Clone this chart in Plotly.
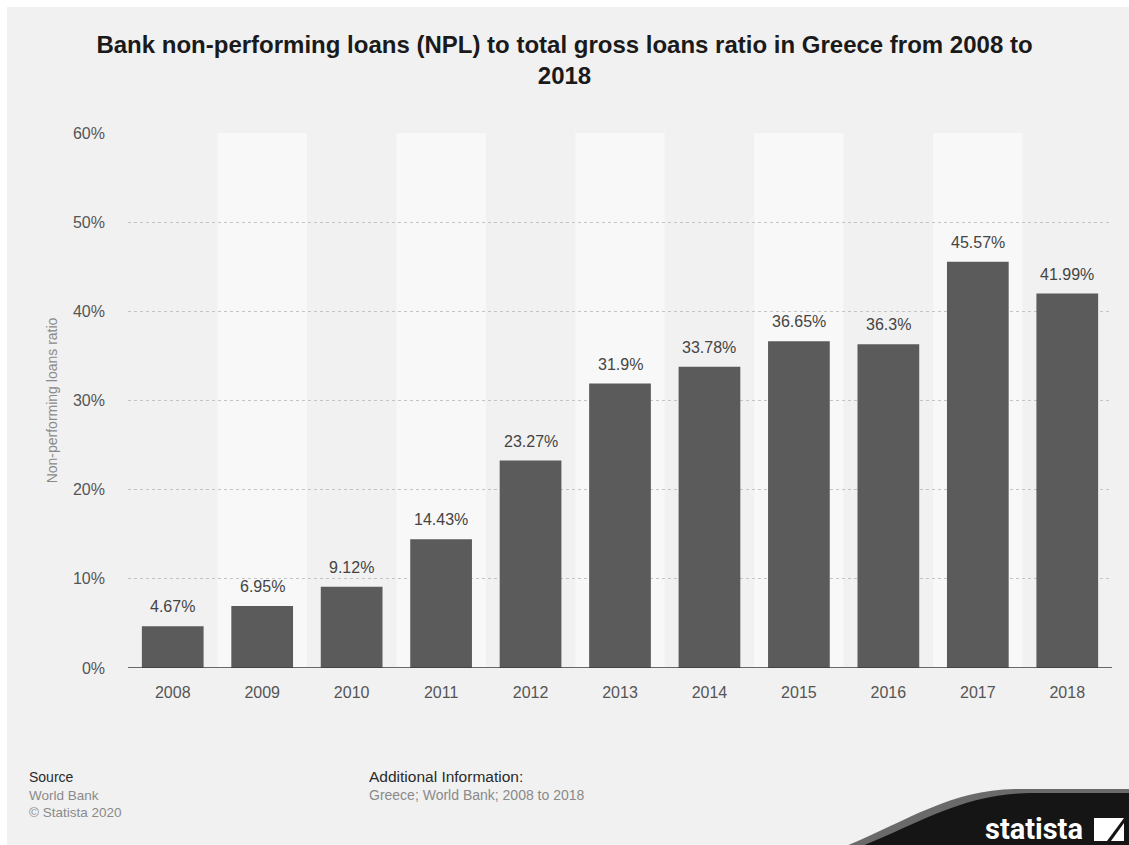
import plotly.graph_objects as go

years = ["2008", "2009", "2010", "2011", "2012", "2013", "2014", "2015", "2016", "2017", "2018"]
npl_ratio = [4.67, 6.95, 9.12, 14.43, 23.27, 31.9, 33.78, 36.65, 36.3, 45.57, 41.99]
labels = ["4.67%", "6.95%", "9.12%", "14.43%", "23.27%", "31.9%", "33.78%", "36.65%", "36.3%", "45.57%", "41.99%"]
y_ticks = [0, 10, 20, 30, 40, 50, 60]
y_tick_text = ["0%", "10%", "20%", "30%", "40%", "50%", "60%"]

W, H = 1129, 845
L, R, T, B = 128, 17, 133, 177
PW, PH = W - L - R, H - T - B
FONT = "Liberation Sans, Arial"

def px(x):
    return (x - L) / PW

def py(y):
    return (H - B - y) / PH

fig = go.Figure()
fig.add_trace(go.Bar(
    x=years, y=npl_ratio,
    marker=dict(color="#5b5b5b", line=dict(width=0)),
    width=0.69, hoverinfo="skip",
))

shapes = []
# gray page background with white border at top/left
shapes.append(dict(type="rect", xref="paper", yref="paper", x0=px(7), x1=px(W + 5),
                   y0=py(H + 5), y1=py(7), fillcolor="#f1f1f1", line=dict(width=0), layer="below"))
for i in range(len(years)):
    if i % 2 == 1:
        shapes.append(dict(type="rect", xref="x", yref="paper", x0=i - 0.5, x1=i + 0.5,
                           y0=0, y1=1, fillcolor="#f8f8f8", line=dict(width=0), layer="below"))
# baseline
shapes.append(dict(type="line", xref="paper", yref="y", x0=0, x1=1, y0=0, y1=0,
                   line=dict(color="#3a3a3a", width=1.5)))

# statista logo swoosh
def path_px(cmds):
    parts = []
    for cmd, pts in cmds:
        parts.append(cmd + " " + " ".join(f"{px(a):.5f},{py(b):.5f}" for a, b in pts))
    return " ".join(parts) + " Z"

swoosh_gray = path_px([
    ("M", [(846, 846)]),
    ("C", [(905, 822), (950, 790), (1015, 789)]),
    ("L", [(1135, 789)]),
    ("L", [(1135, 846)]),
])
swoosh_dark = path_px([
    ("M", [(862, 846)]),
    ("C", [(918, 824), (962, 794), (1030, 793)]),
    ("L", [(1135, 793)]),
    ("L", [(1135, 846)]),
])
shapes.append(dict(type="path", xref="paper", yref="paper", path=swoosh_gray,
                   fillcolor="#6a6a6a", line=dict(width=0), layer="above"))
shapes.append(dict(type="path", xref="paper", yref="paper", path=swoosh_dark,
                   fillcolor="#151515", line=dict(width=0), layer="above"))
# logo icon
icon1 = path_px([
    ("M", [(1094, 818)]),
    ("L", [(1124, 818)]),
    ("L", [(1107, 841)]),
    ("L", [(1094, 841)]),
])
icon2 = path_px([
    ("M", [(1111, 841)]),
    ("L", [(1124, 823)]),
    ("L", [(1124, 841)]),
])
shapes.append(dict(type="path", xref="paper", yref="paper", path=icon1,
                   fillcolor="#ffffff", line=dict(width=0), layer="above"))
shapes.append(dict(type="path", xref="paper", yref="paper", path=icon2,
                   fillcolor="#ffffff", line=dict(width=0), layer="above"))

annotations = []
for i, (v, lab) in enumerate(zip(npl_ratio, labels)):
    annotations.append(dict(x=i, y=v, xref="x", yref="y", text=lab, showarrow=False,
                            yanchor="bottom", yshift=9,
                            font=dict(family=FONT, size=16, color="#444444")))

footer = [
    dict(text="Source", x=px(27), y=py(777), xanchor="left", yanchor="middle",
         font=dict(family=FONT, size=14, color="#2a2a2a")),
    dict(text="World Bank", x=px(27), y=py(795), xanchor="left", yanchor="middle",
         font=dict(family=FONT, size=13.5, color="#8a8a8a")),
    dict(text="© Statista 2020", x=px(27), y=py(812), xanchor="left", yanchor="middle",
         font=dict(family=FONT, size=13.5, color="#8a8a8a")),
    dict(text="Additional Information:", x=px(367), y=py(776), xanchor="left", yanchor="middle",
         font=dict(family=FONT, size=15.5, color="#2a2a2a")),
    dict(text="Greece; World Bank; 2008 to 2018", x=px(367), y=py(795), xanchor="left", yanchor="middle",
         font=dict(family=FONT, size=14, color="#8a8a8a")),
    dict(text="<b>statista</b>", x=px(1085), y=py(829), xanchor="right", yanchor="middle",
         font=dict(family="Roboto, Liberation Sans", size=29, color="#ffffff")),
]
for a in footer:
    a.update(xref="paper", yref="paper", showarrow=False)
annotations += footer

fig.update_layout(
    width=W, height=H,
    margin=dict(l=L, r=R, t=T, b=B),
    paper_bgcolor="#ffffff", plot_bgcolor="rgba(0,0,0,0)",
    title=dict(text="<b>Bank non-performing loans (NPL) to total gross loans ratio in Greece from 2008 to<br>2018</b>",
               x=0.5, xanchor="center", y=1 - 53 / H, yanchor="middle",
               font=dict(family=FONT, size=24, color="#1a1a1a")),
    showlegend=False,
    shapes=shapes,
    annotations=annotations,
    xaxis=dict(showgrid=False, showline=False, ticks="", type="category",
               range=[-0.5, len(years) - 0.5],
               tickfont=dict(family=FONT, size=16, color="#555555"),
               ticklabelstandoff=13),
    yaxis=dict(range=[0, 60], tickvals=y_ticks, ticktext=y_tick_text,
               showgrid=True, gridcolor="#c4c4c4", griddash="dot", gridwidth=1,
               zeroline=False, showline=False,
               tickfont=dict(family=FONT, size=16, color="#555555"),
               ticklabelstandoff=22,
               title=dict(text="Non-performing loans ratio", standoff=12,
                          font=dict(family=FONT, size=14, color="#8a8a8a"))),
)

fig.write_html("out.html")
